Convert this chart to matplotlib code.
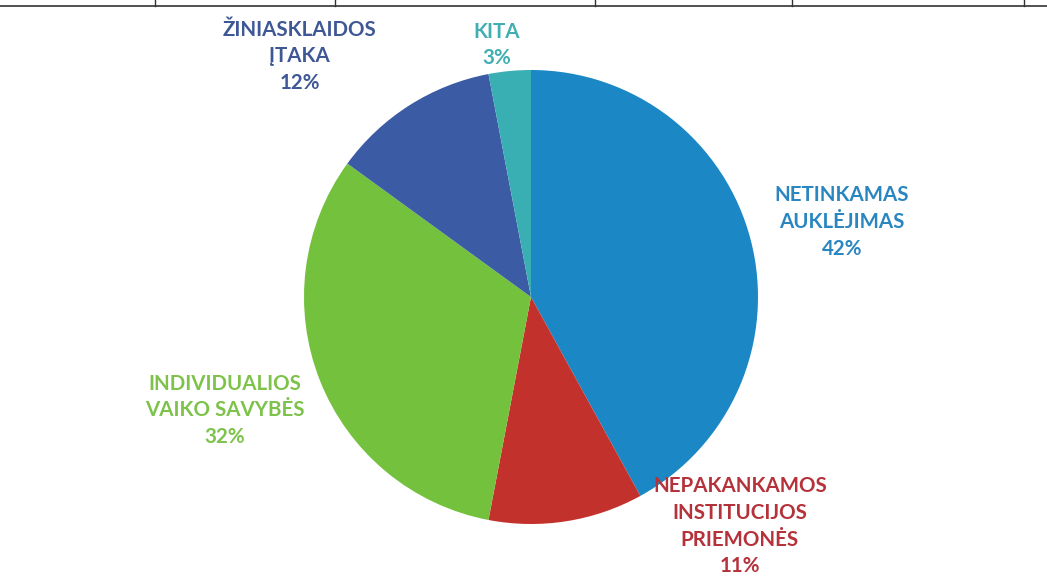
import matplotlib
matplotlib.use("Agg")
import matplotlib.pyplot as plt
from matplotlib.lines import Line2D

# ---------------------------------------------------------------------------
#  data
# ---------------------------------------------------------------------------
categories = [
    "NETINKAMAS\nAUKLĖJIMAS",
    "NEPAKANKAMOS\nINSTITUCIJOS\nPRIEMONĖS",
    "INDIVIDUALIOS\nVAIKO SAVYBĖS",
    "ŽINIASKLAIDOS\nĮTAKA",
    "KITA",
]
shares = [42, 11, 32, 12, 3]

# ---------------------------------------------------------------------------
#  styling
# ---------------------------------------------------------------------------
slice_colors = ["#1C87C5", "#C3312C", "#74C13E", "#3B5BA4", "#3AAFB3"]
label_colors = ["#2A86C0", "#B5323A", "#7DC24A", "#3E5795", "#41AFB2"]
# label centres in pie data units (radius = 1)
label_pos = [(1.37, 0.33), (0.92, -1.01), (-1.35, -0.50), (-1.02, 1.06), (-0.15, 1.11)]

W, H = 1047, 583
CX, CY, R = 531, 297, 227

plt.rcParams['font.family'] = ['Lato', 'DejaVu Sans']

fig = plt.figure(figsize=(W / 100, H / 100), dpi=100)
fig.patch.set_facecolor("white")
ax = fig.add_axes([(CX - R) / W, (H - CY - R) / H, 2 * R / W, 2 * R / H])

ax.pie(shares, colors=slice_colors, startangle=90, counterclock=False,
       radius=1.0, wedgeprops=dict(linewidth=0))
ax.set_xlim(-1, 1)
ax.set_ylim(-1, 1)
ax.set_aspect('equal')
ax.axis('off')

for cat, val, col, (x, y) in zip(categories, shares, label_colors, label_pos):
    ax.text(x, y, f"{cat}\n{val}%", color=col, fontsize=14.8, fontweight='bold',
            ha='center', va='center', linespacing=1.42, clip_on=False)

# bits of the table border visible at the top of the scan
fig.add_artist(Line2D([0, 1], [1 - 6 / H, 1 - 6 / H], color="#333333", lw=1.2))
for px in [155, 335, 595, 792, 1024]:
    fig.add_artist(Line2D([px / W, px / W], [1 - 6 / H, 1], color="#333333", lw=1.0))

fig.savefig("out.png", dpi=100, facecolor="white")
